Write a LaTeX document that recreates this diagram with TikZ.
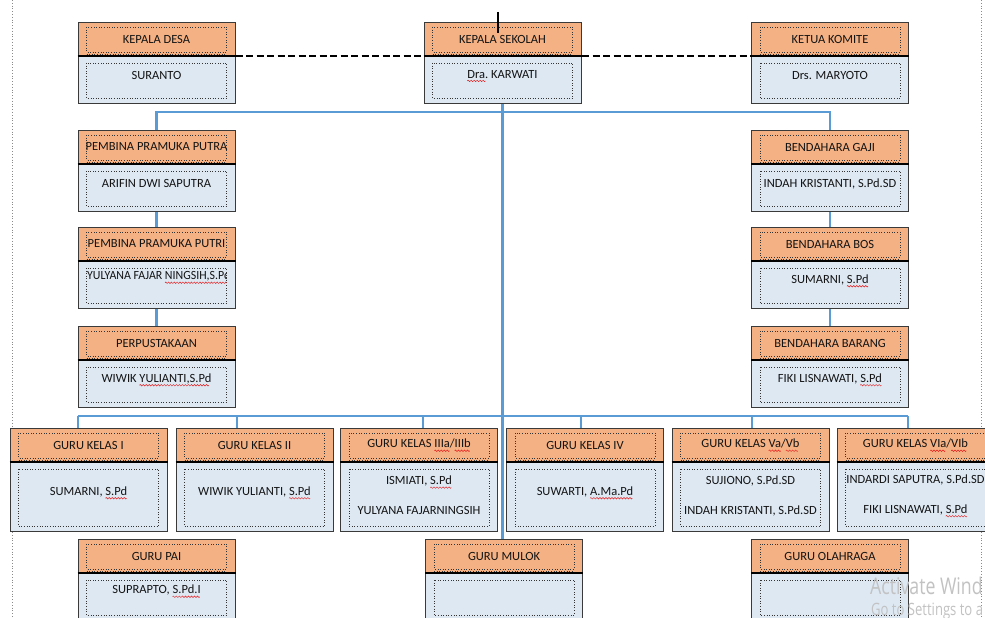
\documentclass[tikz,border=0pt]{standalone}
\usepackage{fontspec}
\setmainfont{Carlito}
\newfontfamily\wmfont{Open Sans}
\newsavebox\sqbox
\newsavebox\wavebit
\sbox\wavebit{\special{pdf:content 0.9 0.1 0.1 RG 0.45 w 0 0 m 0.75 0.75 l 1.5 0 l 2.25 -0.75 l 3 0 l S}\hskip3bp}
\newcommand\sq[1]{\sbox\sqbox{#1}\rlap{\lower2.8pt\hbox to\wd\sqbox{\leaders\copy\wavebit\hfill}}\usebox\sqbox}
\definecolor{hdrorange}{HTML}{F4B183}
\definecolor{bodyblue}{HTML}{DDE8F3}
\definecolor{boxgray}{HTML}{3A3A3A}
\definecolor{connblue}{HTML}{5B9BD5}
\definecolor{pageline}{HTML}{8A8A8A}
\tikzset{
  hdr/.style={draw=boxgray, fill=hdrorange, line width=1pt, minimum width=157pt, minimum height=33pt, inner sep=0pt, anchor=north},
  bdy/.style={draw=boxgray, fill=bodyblue, line width=1pt, minimum width=157pt, inner sep=0pt, anchor=north},
  sepline/.style={draw=black, line width=2pt},
  innerbox/.style={draw=black!80, dotted, line width=0.6pt},
  lbl/.style={font=\fontsize{12.5}{15}\selectfont, inner sep=0pt, text=black!92, align=center},
  conn/.style={draw=connblue, line width=2.2pt},
  dashline/.style={draw=black, line width=2.6pt, dash pattern=on 7pt off 3.5pt},
  pageborder/.style={draw=pageline, dotted, line width=0.8pt},
  wm/.style={inner sep=0pt, text=black!24, font=\wmfont},
}
\newcommand\orgbox[7]{%
  \node[hdr] (#1h) at (#2,#3) {};
  \node[bdy, minimum height=#4pt] (#1b) at (#1h.south) {};
  \draw[sepline] (#1h.south west) -- (#1h.south east);
  \draw[innerbox] ([shift={(9pt,-5pt)}]#1h.north west) rectangle ([shift={(-9pt,4pt)}]#1h.south east);
  \draw[innerbox] ([shift={(9pt,2pt)}]#1h.south west) -- ([shift={(-9pt,2pt)}]#1h.south east);
  \draw[innerbox] ([shift={(9pt,-7pt)}]#1b.north west) rectangle ([shift={(-9pt,6pt)}]#1b.south east);
  \node[lbl] (#1t) at (#1h.center) {#5};
  \node[lbl] (#1u) at ([yshift=#7pt]#1b.center) {#6};
}
\begin{document}
\begin{tikzpicture}[x=1pt,y=-1pt]
\useasboundingbox (0,0) rectangle (985,618);
\clip (0,0) rectangle (985,618);
\fill[white] (0,0) rectangle (985,618);
% page borders
\draw[pageborder] (12,0) -- (12,618);
\draw[pageborder] (981,0) -- (981,618);
% boxes
\orgbox{desa}{156.5}{22}{47}{KEPALA DESA}{SURANTO}{4.5}
\orgbox{sek}{502.5}{22}{47}{KEPALA SEKOLAH}{\sq{Dra.} KARWATI}{4.5}
\orgbox{kom}{830}{22}{47}{KETUA KOMITE}{Drs. MARYOTO}{4.5}
\orgbox{ppa}{156.5}{130}{47}{PEMBINA PRAMUKA PUTRA}{ARIFIN DWI SAPUTRA}{4.5}
\orgbox{ppi}{156.5}{227}{47}{PEMBINA PRAMUKA PUTRI}{}{0}
\orgbox{pus}{156.5}{326}{47}{PERPUSTAKAAN}{WIWIK \sq{YULIANTI,S.Pd}}{4.5}
\orgbox{gaji}{830}{130}{47}{BENDAHARA GAJI}{INDAH KRISTANTI, S.Pd.SD}{4.5}
\orgbox{bos}{830}{227}{47}{BENDAHARA BOS}{SUMARNI, \sq{S.Pd}}{4.5}
\orgbox{brg}{830}{326}{47}{BENDAHARA BARANG}{FIKI LISNAWATI, \sq{S.Pd}}{4.5}
\orgbox{gka}{88.5}{428}{69}{GURU KELAS I}{SUMARNI, \sq{S.Pd}}{4.5}
\orgbox{gkb}{254.5}{428}{69}{GURU KELAS II}{WIWIK YULIANTI, \sq{S.Pd}}{4.5}
\orgbox{gkc}{419}{428}{69}{GURU KELAS \sq{IIIa}/\sq{IIIb}}{ISMIATI, \sq{S.Pd}\\[15pt]YULYANA FAJARNINGSIH}{1.5}
\orgbox{gkd}{585}{428}{69}{GURU KELAS IV}{SUWARTI, \sq{A.Ma.Pd}}{4.5}
\orgbox{gke}{750.5}{428}{69}{GURU KELAS \sq{Va}/\sq{Vb}}{SUJIONO, S.Pd.SD\\[15pt]INDAH KRISTANTI, S.Pd.SD}{1.5}
\orgbox{gkf}{915.5}{428}{69}{GURU KELAS \sq{VIa}/\sq{VIb}}{INDARDI SAPUTRA, S.Pd.SD\\[15pt]FIKI LISNAWATI, \sq{S.Pd}}{1.5}
\orgbox{pai}{156.5}{539}{47}{GURU PAI}{SUPRAPTO, \sq{S.Pd.I}}{6}
\orgbox{mul}{504}{539}{47}{GURU MULOK}{}{6}
\orgbox{olr}{830}{539}{47}{GURU OLAHRAGA}{}{6}
% overflowing text of Pembina Pramuka Putri
\begin{scope}
  \clip ([shift={(9pt,0pt)}]ppib.north west) rectangle ([shift={(-9pt,0pt)}]ppib.south east);
  \node[lbl, anchor=west, xscale=0.95] (ppiu) at (87,277) {YULYANA FAJAR \sq{NINGSIH,S.Pd}};
\end{scope}
% connectors
\draw[conn] (ppah.north) -- ++(0,-18) -| (gajih.north);
\draw[conn] (sekb.south) -- (sekb.south |- mulh.north);
\draw[conn] (ppab.south) -- (ppih.north);
\draw[conn] (ppib.south) -- (push.north);
\draw[conn] (gajib.south) -- (bosh.north);
\draw[conn] (bosb.south) -- (brgh.north);
\coordinate (ba) at (78,416);
\coordinate (bb) at (237,416);
\coordinate (bc) at (423,416);
\coordinate (bd) at (581,416);
\coordinate (be) at (752,416);
\coordinate (bf) at (908,416);
\draw[conn] (ba) -- (bf);
\draw[conn] (ba) -- (ba |- gkah.north);
\draw[conn] (bb) -- (bb |- gkbh.north);
\draw[conn] (bc) -- (bc |- gkch.north);
\draw[conn] (bd) -- (bd |- gkdh.north);
\draw[conn] (be) -- (be |- gkeh.north);
\draw[conn] (bf) -- (bf |- gkfh.north);
% dashed line between top boxes
\draw[dashline] (desah.south east) -- (komh.south west);
% cursor mark
\coordinate (cur1) at (498,12);
\coordinate (cur2) at (498,33);
\draw[black, line width=1.3pt] (cur1) -- (cur2);
% watermark (only the visible part)
\node[wm, anchor=base west, xscale=0.77, font=\wmfont\fontsize{23}{27}\selectfont] (wma) at (870,594) {Activate Wind};
\node[wm, anchor=base west, xscale=0.77, font=\wmfont\fontsize{17}{20}\selectfont] (wmb) at (871,615) {Go to Settings to a};
\end{tikzpicture}
\end{document}
